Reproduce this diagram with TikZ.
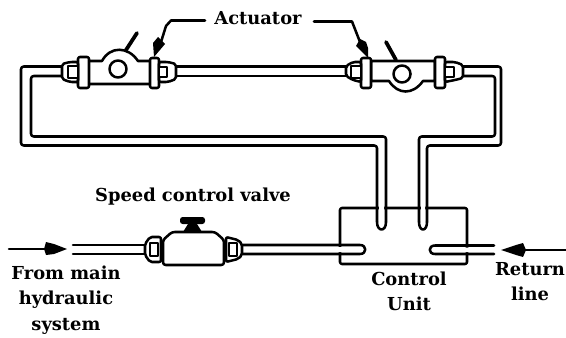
\documentclass[tikz,border=0pt]{standalone}
\usepackage{fontspec}
\setmainfont{DejaVu Serif}
\usetikzlibrary{arrows.meta}
\tikzset{
  x=.75pt,y=-.75pt,
  ink/.style={draw=black,line width=1.9pt,line join=round,line cap=round},
  part/.style={ink,fill=white},
  small part/.style={part,line width=1.7pt},
  lbl/.style={font=\fontsize{13.4}{19.2}\selectfont\bfseries,text=black,inner sep=0pt,align=center},
  blob/.style={fill=black,draw=none},
}
\begin{document}
\begin{tikzpicture}
\useasboundingbox (0,0) rectangle (566,338);
% control unit
\draw[ink,rounded corners=1.5pt] (340,208) rectangle (467,264);
\fill[white] (379,205) rectangle (384,212) (421,205) rectangle (425,212) (336,247) rectangle (344,252) (463,247.5) rectangle (471,252);
% hydraulic loop: outer and inner walls
\draw[ink,rounded corners=2pt] (62,66.5) -- (21,66.5) -- (21,145.5) -- (377,145.5) -- (377,222);
\draw[ink] (377,222) .. controls (377,232) and (386,232) .. (386,222);
\draw[ink,rounded corners=2pt] (386,222) -- (386,136.5) -- (31,136.5) -- (31,76) -- (62,76);
\draw[ink,rounded corners=2pt] (463,66.5) -- (501,66.5) -- (501,145.5) -- (427,145.5) -- (427,222);
\draw[ink] (427,222) .. controls (427,232) and (419,232) .. (419,222);
\draw[ink,rounded corners=2pt] (419,222) -- (419,136.5) -- (495,136.5) -- (495,76) -- (463,76);
\draw[ink] (176,66.5) -- (346,66.5) (176,76) -- (346,76);
% supply and return lines
\draw[ink] (73,245) -- (145,245) (73,254) -- (145,254);
\draw[ink] (242,245) -- (360,245) .. controls (367,245) and (367,254) .. (360,254) -- (242,254);
\draw[ink] (494,245.5) -- (435,245.5) .. controls (428,245.5) and (428,254) .. (435,254) -- (494,254);
% left actuator
\draw[part] (78,61) -- (102,61) .. controls (110,46) and (128,46) .. (138,61) -- (152,61) -- (152,84) -- (78,84) -- cycle;
\draw[part,rounded corners=1.5pt] (78,57) rectangle (89,88);
\draw[part,rounded corners=1.5pt] (150,58) rectangle (159,88);
\draw[part,rounded corners=1.5pt] (62,64) -- (70,62) -- (78,62) -- (78,82) -- (70,82) -- (62,79) -- cycle;
\draw[small part] (68,66) rectangle (78,78);
\draw[part,rounded corners=1.5pt] (176,64) -- (168,62) -- (159,62) -- (159,82) -- (168,82) -- (176,79) -- cycle;
\draw[small part] (159,67) rectangle (167,77);
\draw[part] (118,69) circle[radius=8.5];
\draw[ink,line width=2.8pt] (126,50) -- (137,33);
% right actuator
\draw[part] (371,61) -- (435,61) -- (435,81) -- (423,81) .. controls (413,95) and (398,95) .. (389,81) -- (371,81) -- cycle;
\draw[part,rounded corners=1.5pt] (361,58) rectangle (371,88);
\draw[part,rounded corners=1.5pt] (435,57) rectangle (445,88);
\draw[part,rounded corners=1.5pt] (346,66) -- (353,62) -- (361,62) -- (361,82) -- (353,80) -- (346,76) -- cycle;
\draw[small part] (351,66) rectangle (361,78);
\draw[part,rounded corners=1.5pt] (463,65) -- (455,62) -- (445,62) -- (445,82) -- (455,80) -- (463,78) -- cycle;
\draw[small part] (445,67) rectangle (454,77);
\draw[part] (402,74) circle[radius=8.5];
\draw[ink,line width=2.8pt] (396,60) -- (386,42);
% speed control valve
\draw[part,rounded corners=2pt] (163,240) -- (172,232) -- (215,232) -- (224,240) -- (224,265) -- (163,265) -- cycle;
\draw[part,rounded corners=1.5pt] (145,244) -- (150,237) -- (161,237) -- (161,262) -- (150,262) -- (145,255) -- cycle;
\draw[small part] (150,243) rectangle (158,256);
\draw[part,rounded corners=1.5pt] (242,244) -- (238,240) -- (226,237) -- (226,262) -- (238,259) -- (242,255) -- cycle;
\draw[small part] (229,243) rectangle (237,256);
\fill[blob,rounded corners=2pt] (180,217) rectangle (205,224);
\fill[blob] (188,224) -- (197,224) -- (202,232) -- (183,232) -- cycle;
% flow arrows
\draw[ink] (9,249) -- (46,249);
\fill[blob] (67,249) -- (54,244) -- (46,242) -- (44,249) -- (46,255) -- (54,254) -- cycle;
\draw[ink] (525,250) -- (566,250);
\fill[blob] (501,250) -- (516,245) -- (523,243) -- (526,250) -- (523,257) -- (516,255) -- cycle;
% actuator leaders
\draw[ink] (205,20.5) -- (171,20.5) -- (166,26) -- (161,42);
\fill[blob] (154,57) -- (153,43) -- (158,37) -- (165,44) -- cycle;
\draw[ink] (314,21.5) -- (352,21.5) -- (360,42);
\fill[blob] (368,58) -- (356,46) -- (360,39) -- (366,42) -- (368,48) -- cycle;
% labels
\node[lbl] (actuator) at (258,18) {Actuator};
\node[lbl] (speed) at (193,197) {Speed control valve};
\node[lbl] (from) at (66,300) {From main\\hydraulic\\system};
\node[lbl] (unit) at (409,291.5) {Control\\Unit};
\node[lbl] (ret) at (530,281.5) {Return\\line};
\end{tikzpicture}
\end{document}
